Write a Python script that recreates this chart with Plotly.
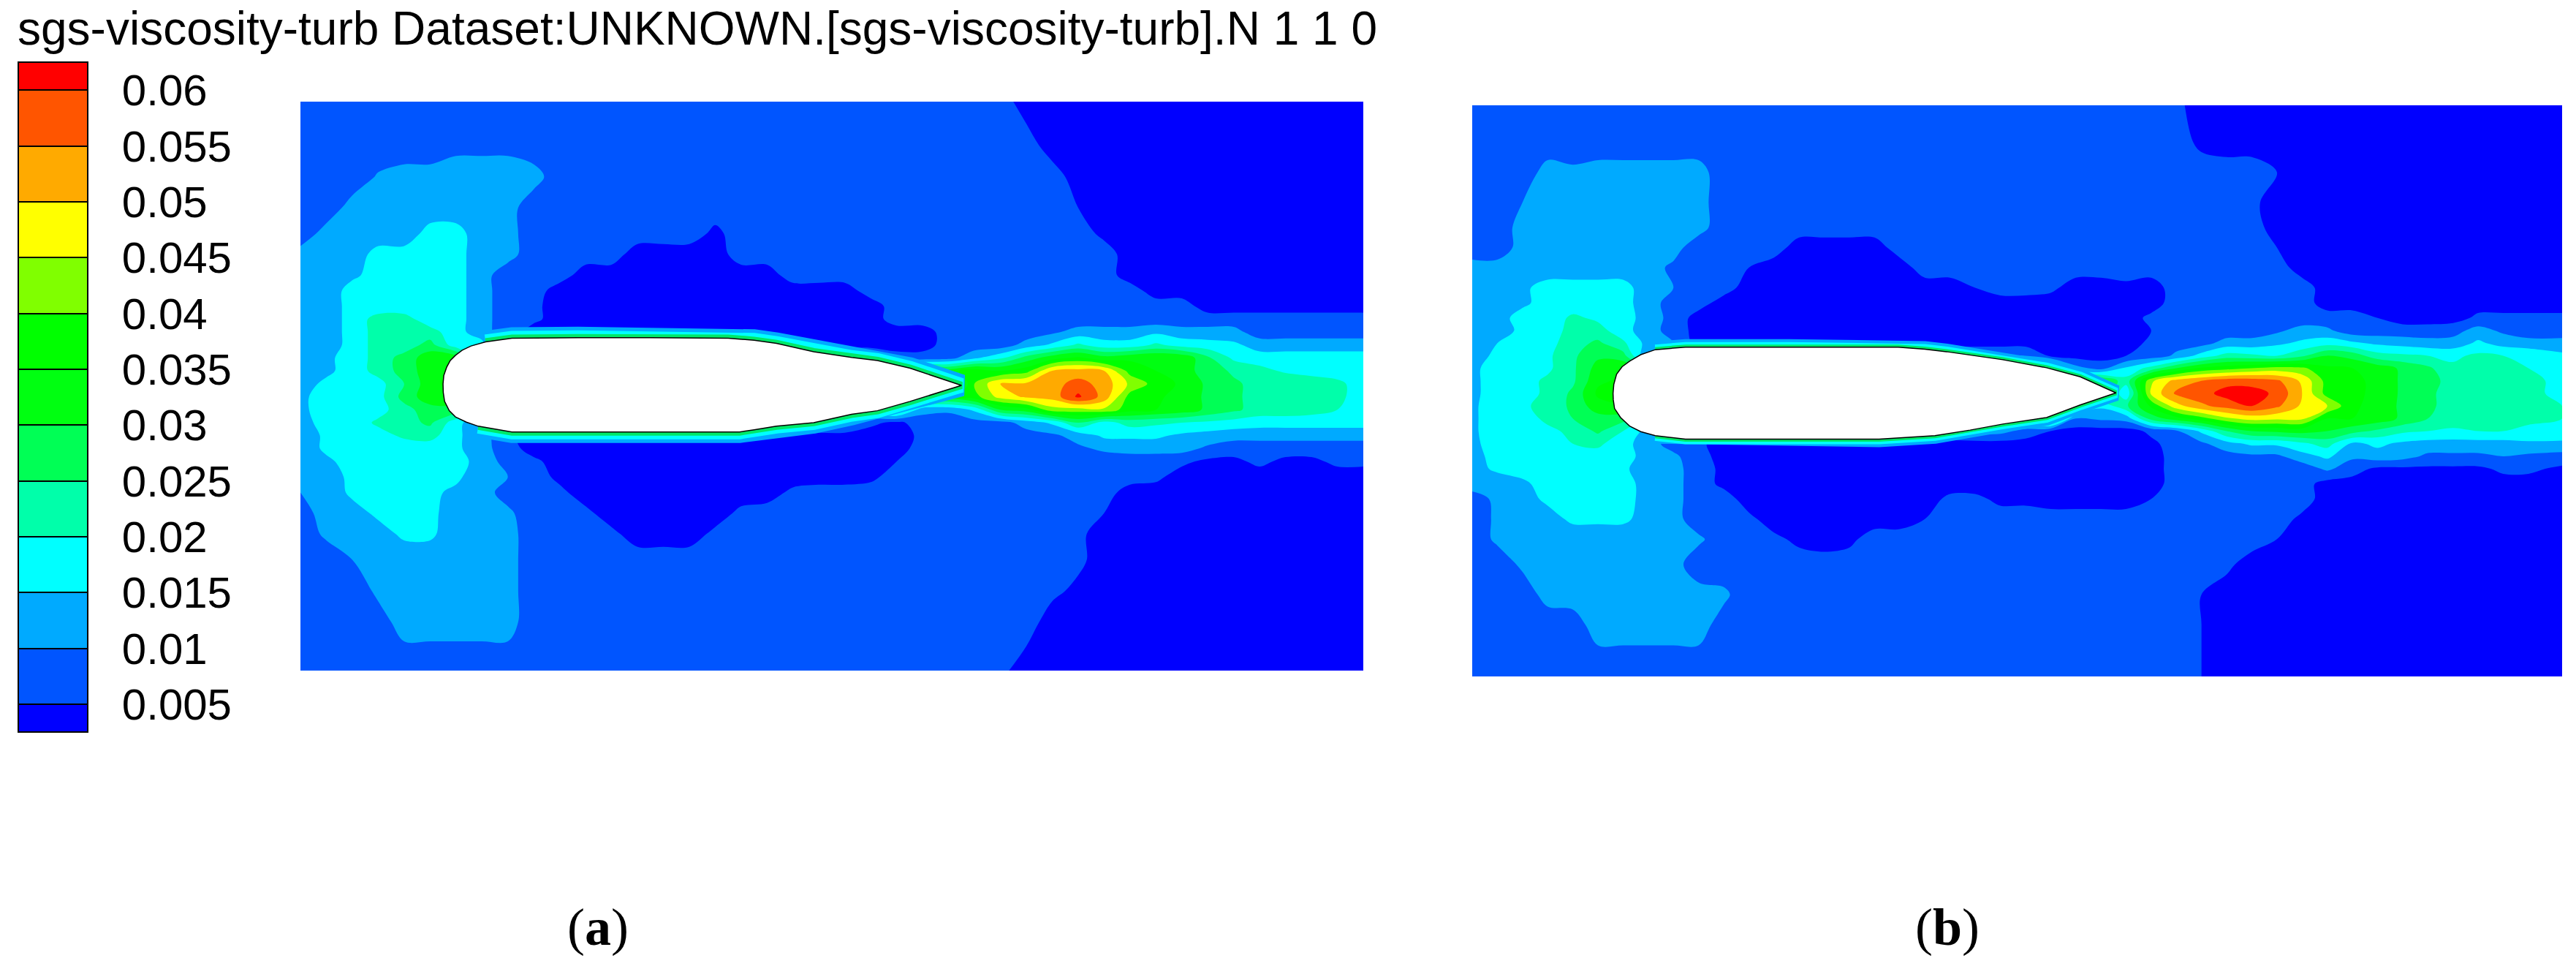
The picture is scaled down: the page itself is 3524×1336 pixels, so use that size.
import numpy as np
import plotly.graph_objects as go

# sgs-viscosity-turb contour values, in 1e-3 units
x_a = [-0.275, -0.225, -0.175, -0.125, -0.075, -0.025, 0.025, 0.075, 0.125, 0.175, 0.225, 0.275, 0.325, 0.375,
       0.425, 0.475, 0.525, 0.575, 0.625, 0.675, 0.725, 0.775, 0.825, 0.875, 0.925, 0.975, 1.025, 1.075,
       1.125, 1.175, 1.225, 1.275, 1.325, 1.375, 1.425, 1.475, 1.525, 1.575, 1.625, 1.675, 1.725, 1.775]
y_a = [0.545, 0.46, 0.40, 0.34, 0.29, 0.25, 0.21, 0.18, 0.15, 0.125, 0.10, 0.075, 0.05, 0.025, 0,
       -0.025, -0.05, -0.075, -0.10, -0.125, -0.15, -0.18, -0.21, -0.25, -0.29, -0.34, -0.40, -0.46, -0.554]
sgs_a = [
    [7,7,7,7,7,7,7,7,7,7,7,7,7,7,7,7,7,7,7,7,7,7,7,7,7,7,7,7,3,3,3,3,3,3,3,3,3,3,3,3,3,3],
    [7,7,7,7,7,7,9,9,9,7,7,7,7,7,7,7,7,7,7,7,7,7,7,7,7,7,7,7,7,3,3,3,3,3,3,3,3,3,3,3,3,3],
    [7,7,7,10.5,12,12,12,12,12,12,7,7,7,7,7,7,7,7,7,7,7,7,7,7,7,7,7,7,7,7,3,3,3,3,3,3,3,3,3,3,3,3],
    [7,7,12,12,12,12,12,12,12,7,7,7,7,7,7,7,7,7,7,7,7,7,7,7,7,7,7,7,7,7,5,3,3,3,3,3,3,3,3,3,3,3],
    [7,12,12,12,12,17,17,12,12,7,7,7,7,7,7,7,4,7,7,7,7,7,7,7,7,7,7,7,7,7,7,4,3,3,3,3,3,3,3,3,3,3],
    [12,12,12,17,17,17,17,12,12,7,7,7,7,3,3,3,3,7,7,7,7,7,7,7,7,7,7,7,7,7,7,7,3,3,3,3,3,3,3,3,3,3],
    [12,12,14,17,17,17,17,12,7,7,7,3,3,3,3,3,3,3,3,7,7,7,7,7,7,7,7,7,7,7,7,7,3,3,3,3,3,3,3,3,3,3],
    [12,12,17,17,17,17,17,12,7,7,3,3,3,3,3,3,3,3,3,3,3,3,7,7,7,7,7,7,7,7,7,7,7,3,3,3,3,3,3,3,3,3],
    [12,12,17,17,17,17,17,12,7,6,3,3,3,3,3,3,3,3,3,3,3,3,3,7,7,7,7,7,7,7,7,7,7,7,7,3,3,3,3,3,3,3],
    [12,12,17,22,22,17,17,12,7,6,3,3,3,3,3,3,3,3,3,3,3,3,3,7,7,7,7,7,7,7,7,7,7,7,7,7,7,7,7,7,7,7],
    [12,12,17,22,22,22,17,12,7,3,3,3,3,3,3,3,3,3,3,3,3,3,3,3,3,7,7,7,7,9,12,12,12,14,12,12,12,7,7,7,7,7],
    [12,12,17,22,22,27,17,17,3,3,3,3,3,3,3,3,3,3,3,3,3,3,3,3,3,7,7,7,12,16,21,17,17,21,18,17,16,13,13,13,13,13],
    [12,14,17,22,27,33,33,17,17,17,17,17,17,17,17,17,17,17,17,17,17,12,12,7,7,8,14,19,27,33,36,32,34,35,34,26,19,17,17,17,17,17],
    [13,14,17,22,27,33,36,25,25,25,25,25,25,25,25,25,25,25,25,25,25,25,25,25,33,33,38,35,38,50,52,50,38,35,32,28,24,22,19,18,18,18],
    [13,16,17,18,25,33,38,30,30,30,30,30,30,30,30,30,30,30,30,30,30,30,30,30,30,20,40,50,51,53,57,53,44,38,34,29,26,23,25,23,21,18],
    [14,17,17,18,27,33,33,25,25,25,25,25,25,25,25,25,25,25,25,25,25,25,25,25,33,33,38,47,51,52,61,53,38,36,33,29,26,23,24,23,21,18],
    [14,17,17,18,23,28,28,20,20,20,20,20,20,20,20,20,20,20,20,20,20,20,20,25,12,11,16,30,33,43,43,44,37,35,33,29,26,23,23,22,20,18],
    [13,17,17,21,23,26,17,10,10,10,10,10,10,10,10,10,10,10,10,10,12,12,6,4,7,7,8,8,12,16,25,18,22,21,20,19,18,17,17,17,17,17],
    [12,16,17,18,21,22,16,12,6,3,3,3,3,3,3,3,3,3,3,3,3,3,3,3,6,5,7,7,8,9,12,16,16,16,14,13,12,12,12,12,12,12],
    [12,16,17,17,17,17,16,12,7,3,3,3,3,3,3,3,3,3,3,3,3,3,3,3,7,7,7,7,7,7,9,11,12,12,12,9,7,7,7,7,7,7],
    [11,14,17,17,17,17,17,13,8,6,3,3,3,3,3,3,3,3,3,3,3,3,3,5,7,7,7,7,7,7,7,7,7,7,6,4,4,6,4,4,6,6],
    [11,13,16,17,17,17,16,12,10,7,4,3,3,3,3,3,3,3,3,3,3,3,4,7,7,7,7,7,7,7,7,7,7,6,3,3,3,3,3,3,3,3],
    [10,12,16,16,16,16,14,12,8,7,6,3,3,3,3,3,3,3,3,6,7,7,7,7,7,7,7,7,7,7,7,7,3,3,3,3,3,3,3,3,3,3],
    [8,12,13,16,16,16,13,12,11,7,7,6,3,3,3,3,3,6,7,7,7,7,7,7,7,7,7,7,7,7,7,5,3,3,3,3,3,3,3,3,3,3],
    [7,11,13,13,16,16,12,12,12,7,7,7,6,3,3,3,6,7,7,7,7,7,7,7,7,7,7,7,7,7,6,3,3,3,3,3,3,3,3,3,3,3],
    [7,7,10,12,12,12,12,12,12,7,7,7,7,7,7,7,7,7,7,7,7,7,7,7,7,7,7,7,7,7,6,3,3,3,3,3,3,3,3,3,3,3],
    [7,7,7,11,12,12,12,12,12,7,7,7,7,7,7,7,7,7,7,7,7,7,7,7,7,7,7,7,7,6,4,3,3,3,3,3,3,3,3,3,3,3],
    [7,7,7,8,12,12,12,12,12,7,7,7,7,7,7,7,7,7,7,7,7,7,7,7,7,7,7,7,7,3,3,3,3,3,3,3,3,3,3,3,3,3],
    [7,7,7,7,7,7,7,7,7,7,7,7,7,7,7,7,7,7,7,7,7,7,7,7,7,7,7,6,3,3,3,3,3,3,3,3,3,3,3,3,3,3],
]

x_b = [-0.28, -0.23, -0.18, -0.13, -0.08, -0.03, 0.02, 0.07, 0.12, 0.17, 0.22, 0.27, 0.32, 0.37, 0.42,
       0.47, 0.52, 0.57, 0.62, 0.67, 0.72, 0.77, 0.82, 0.87, 0.92, 0.97, 1.02, 1.07, 1.12, 1.17, 1.22,
       1.27, 1.32, 1.37, 1.42, 1.47, 1.52, 1.57, 1.62, 1.67, 1.72, 1.77, 1.82, 1.887]
y_b = [0.573, 0.50, 0.44, 0.38, 0.33, 0.29, 0.25, 0.21, 0.18, 0.15, 0.125, 0.10, 0.075, 0.05, 0.025, 0,
       -0.025, -0.05, -0.075, -0.10, -0.125, -0.15, -0.18, -0.21, -0.25, -0.29, -0.34, -0.40, -0.46, -0.563]
sgs_b = [
    [7,7,7,7,7,7,7,7,7,7,7,7,7,7,7,7,7,7,7,7,7,7,7,7,7,7,7,7,6,3,3,3,3,3,3,3,3,3,3,3,3,3,3,3],
    [7,7,7,7,7,7,7,7,7,7,7,7,7,7,7,7,7,7,7,7,7,7,7,7,7,7,7,7,7,4,3,3,3,3,3,3,3,3,3,3,3,3,3,3],
    [7,7,7,12,11,12,12,12,12,12,7,7,7,7,7,7,7,7,7,7,7,7,7,7,7,7,7,7,7,7,7,7,5,3,3,3,3,3,3,3,3,3,3,3],
    [7,7,10,12,12,12,12,12,12,12,7,7,7,7,7,7,7,7,7,7,7,7,7,7,7,7,7,7,7,7,7,6,3,3,3,3,3,3,3,3,3,3,3,3],
    [7,7,12,12,12,12,12,12,12,12,7,7,7,7,7,7,7,7,7,7,7,7,7,7,7,7,7,7,7,7,7,7,3,3,3,3,3,3,3,3,3,3,3,3],
    [7,7,12,12,12,12,12,12,12,7,7,7,7,3,3,3,3,7,7,7,7,7,7,7,7,7,7,7,7,7,7,7,5,3,3,3,3,3,3,3,3,3,3,3],
    [12,12,12,12,12,12,12,12,9,7,7,5,3,3,3,3,3,3,7,7,7,7,7,7,7,7,7,7,7,7,7,7,7,3,3,3,3,3,3,3,3,3,3,3],
    [12,12,14,17,17,17,17,12,10,7,7,3,3,3,3,3,3,3,3,3,5,7,7,6,3,3,4,3,7,7,7,7,7,7,3,3,3,3,3,3,3,3,3,3],
    [12,13,14,17,17,17,17,12,8,7,3,3,3,3,3,3,3,3,3,3,3,3,3,3,3,3,3,3,7,7,7,7,7,7,3,3,3,3,3,3,3,3,3,3],
    [12,13,17,17,21,19,17,13,8,3,3,3,3,3,3,3,3,3,3,3,3,3,3,3,3,3,3,6,7,7,7,7,7,7,7,7,5,3,3,3,6,6,6,6],
    [12,13,16,17,22,22,17,12,8,3,3,3,3,3,3,3,3,3,3,3,3,3,3,3,3,3,3,5,7,7,7,7,9,12,11,7,7,7,7,8,12,9,7,7],
    [12,15,16,18,23,26,21,13,10,3,3,3,3,3,3,3,3,3,3,3,3,3,3,3,3,3,3,6,8,8,12,12,14,16,18,16,14,13,12,12,16,13,12,12],
    [13,16,18,19,24,29,27,10,10,10,10,10,10,10,10,10,10,10,10,10,10,10,10,4,3,3,5,7,11,17,22,21,20,24,30,28,22,21,20,19,21,20,19,16],
    [14,17,18,19,24,32,34,25,25,25,25,25,25,25,25,25,25,25,25,25,25,25,25,30,12,8,16,22,30,36,38,40,42,41,36,35,33,29,26,21,22,21,20,18],
    [14,17,18,21,24,34,36,30,30,30,30,30,30,30,30,30,30,30,30,30,30,30,30,30,30,31,22,44,52,55,58,58,56,49,38,36,34,29,27,23,23,22,21,19],
    [14,17,18,21,26,36,38,30,30,30,30,30,30,30,30,30,30,30,30,30,30,30,30,30,30,30,16,46,56,58,62,62,59,50,38,36,34,29,26,23,23,22,21,19],
    [14,18,19,22,26,33,34,25,25,25,25,25,25,25,25,25,25,25,25,25,25,25,25,25,25,16,24,36,48,54,57,60,56,49,45,36,33,29,26,23,22,22,21,20],
    [14,18,18,21,25,28,27,20,20,20,20,20,20,20,20,20,20,20,20,20,20,20,20,30,10,11,12,27,33,38,44,47,46,46,35,35,33,29,25,23,22,21,21,20],
    [14,18,18,19,21,26,20,13,10,10,10,10,10,10,10,10,10,10,10,10,12,12,8,5,3,3,3,6,9,16,25,30,31,32,30,27,24,21,20,19,20,20,19,18],
    [14,17,17,18,20,21,17,12,8,6,3,3,3,3,3,3,3,3,3,3,3,3,3,3,3,3,3,4,7,9,13,16,16,19,22,14,16,14,13,13,13,13,14,14],
    [13,17,17,17,19,18,17,13,11,7,3,3,3,3,3,3,3,3,3,3,3,3,3,3,3,3,3,3,7,7,8,9,9,13,16,11,13,12,9,9,9,10,9,8],
    [13,16,17,17,17,17,16,12,12,7,4,3,3,3,3,3,3,3,3,3,3,3,3,3,3,3,3,3,7,7,7,7,7,7,11,7,4,4,4,4,4,6,6,4],
    [12,12,14,17,17,17,17,13,12,7,4,3,3,3,3,3,3,3,3,3,3,3,3,3,3,3,3,3,7,7,7,7,7,7,3,3,3,3,3,3,3,3,3,3],
    [8,11,13,16,16,16,17,13,12,7,7,3,3,3,3,3,3,3,3,6,6,4,4,3,3,3,3,5,7,7,7,7,7,7,3,3,3,3,3,3,3,3,3,3],
    [7,11,13,13,16,16,16,13,12,7,7,6,3,3,3,3,3,3,5,7,7,7,7,7,7,7,7,7,7,7,7,7,7,4,3,3,3,3,3,3,3,3,3,3],
    [7,11,12,12,12,12,12,12,12,11,7,7,6,4,3,4,7,7,7,7,7,7,7,7,7,7,7,7,7,7,7,7,5,3,3,3,3,3,3,3,3,3,3,3],
    [7,7,11,12,12,12,12,12,12,7,7,7,7,7,7,7,7,7,7,7,7,7,7,7,7,7,7,7,7,7,6,3,3,3,3,3,3,3,3,3,3,3,3,3],
    [7,7,7,12,12,12,12,12,12,12,11,7,7,7,7,7,7,7,7,7,7,7,7,7,7,7,7,7,7,5,3,3,3,3,3,3,3,3,3,3,3,3,3,3],
    [7,7,7,7,8,12,12,12,12,12,8,7,7,7,7,7,7,7,7,7,7,7,7,7,7,7,7,7,7,5,3,3,3,3,3,3,3,3,3,3,3,3,3,3],
    [7,7,7,7,7,7,7,7,7,7,7,7,7,7,7,7,7,7,7,7,7,7,7,7,7,7,7,7,7,5,3,3,3,3,3,3,3,3,3,3,3,3,3,3],
]

# aerofoil outlines in chord units
foil_a_x = [0, 0.0015, 0.007, 0.014, 0.024, 0.037, 0.054, 0.082, 0.133, 0.26, 0.40, 0.55, 0.60, 0.643, 0.715,
            0.788, 0.838, 0.901, 1.0, 0.901, 0.838, 0.788, 0.715, 0.643, 0.60, 0.572, 0.30, 0.133, 0.068, 0.045,
            0.024, 0.012, 0.003, 0.0005, 0]
foil_a_y = [0, 0.016, 0.032, 0.045, 0.055, 0.065, 0.073, 0.081, 0.088, 0.089, 0.089, 0.088, 0.084, 0.078, 0.062,
            0.051, 0.045, 0.030, -0.003, -0.034, -0.052, -0.059, -0.075, -0.082, -0.089, -0.093, -0.093, -0.093,
            -0.082, -0.074, -0.064, -0.052, -0.034, -0.017, 0]
foil_b_x = [0, 0.0015, 0.007, 0.018, 0.033, 0.055, 0.084, 0.144, 0.35, 0.567, 0.62, 0.663, 0.775, 0.862, 0.929, 1.0,
            0.929, 0.862, 0.775, 0.71, 0.64, 0.529, 0.35, 0.144, 0.084, 0.055, 0.033, 0.015, 0.003, 0.0005, 0]
foil_b_y = [0, 0.018, 0.038, 0.053, 0.064, 0.077, 0.087, 0.092, 0.092, 0.092, 0.088, 0.083, 0.067, 0.051, 0.033, 0.001,
            -0.023, -0.048, -0.061, -0.073, -0.084, -0.091, -0.091, -0.091, -0.084, -0.076, -0.065, -0.048, -0.030,
            -0.013, 0]

levels = [0.005, 0.01, 0.015, 0.02, 0.025, 0.03, 0.035, 0.04, 0.045, 0.05, 0.055, 0.06]
level_labels = ["0.005", "0.01", "0.015", "0.02", "0.025", "0.03", "0.035", "0.04", "0.045", "0.05", "0.055", "0.06"]
band_colors = ["#0000ff", "#0055ff", "#00aaff", "#00ffff", "#00ffaa", "#00ff55", "#00ff11", "#00ff00",
               "#80ff00", "#ffff00", "#ffaa00", "#ff5500", "#ff0000"]
colorscale = [[i / 12, c] for i, c in enumerate(band_colors)]
contours = dict(coloring="fill", showlines=False, start=0.005, end=0.06, size=0.005)

W, H = 3524, 1336

fig = go.Figure()
fig.add_trace(go.Contour(
    x=x_a, y=y_a, z=np.array(sgs_a) / 1000, contours=contours, colorscale=colorscale, line_width=0,
    xaxis="x", yaxis="y",
    colorbar=dict(
        x=25 / W, xanchor="left", xpad=0, y=1 - 85 / H, yanchor="top", ypad=0,
        len=916 / H, lenmode="fraction", thickness=95, thicknessmode="pixels",
        outlinecolor="black", outlinewidth=2, borderwidth=0,
        tickmode="array", tickvals=levels, ticktext=["\u00a0\u00a0" + t for t in level_labels],
        ticks="inside", ticklen=95, tickwidth=2, tickcolor="black",
        tickfont=dict(family="Liberation Sans", size=60, color="black"),
    ),
))
fig.add_trace(go.Contour(
    x=x_b, y=y_b, z=np.array(sgs_b) / 1000, contours=contours, colorscale=colorscale, line_width=0,
    showscale=False, xaxis="x2", yaxis="y2",
))

# thin boundary layer along the foil sides (not round the nose), then the foil itself
for fx, fy, xa, ya, widths, i0, i1 in [(foil_a_x, foil_a_y, "x", "y", (30, 20, 10), 7, 29),
                                       (foil_b_x, foil_b_y, "x2", "y2", (22, 14, 7), 6, 25)]:
    for w, c in zip(widths, ["#00aaff", "#00ffff", "#00e868"]):
        fig.add_trace(go.Scatter(x=fx[i0:i1], y=fy[i0:i1], mode="lines", line=dict(color=c, width=w),
                                 xaxis=xa, yaxis=ya, showlegend=False, hoverinfo="skip"))
    fig.add_trace(go.Scatter(x=fx, y=fy, mode="lines", fill="toself", fillcolor="white",
                             line=dict(color="black", width=1.5), xaxis=xa, yaxis=ya,
                             showlegend=False, hoverinfo="skip"))

hidden = dict(visible=False, showgrid=False, zeroline=False)
fig.update_layout(
    width=W, height=H,
    margin=dict(l=0, r=0, t=0, b=0, pad=0, autoexpand=False),
    paper_bgcolor="white", plot_bgcolor="white", showlegend=False,
    xaxis=dict(hidden, domain=[411 / W, 1865 / W], range=[-0.275, 1.775]),
    yaxis=dict(hidden, domain=[1 - 917 / H, 1 - 139 / H], range=[-0.554, 0.545]),
    xaxis2=dict(hidden, domain=[2014 / W, 3505 / W], range=[-0.28, 1.887]),
    yaxis2=dict(hidden, domain=[1 - 925 / H, 1 - 144 / H], range=[-0.563, 0.573]),
    annotations=[
        dict(text="sgs-viscosity-turb Dataset:UNKNOWN.[sgs-viscosity-turb].N 1 1 0", xref="paper", yref="paper",
             x=22 / W, y=1 - 39 / H, xanchor="left", yanchor="middle", showarrow=False,
             font=dict(family="Liberation Sans", size=64, color="black")),
        dict(text="(<b>a</b>)", xref="paper", yref="paper", x=818 / W, y=1 - 1268 / H, xanchor="center",
             yanchor="middle", showarrow=False, font=dict(family="Liberation Serif", size=72, color="black")),
        dict(text="(<b>b</b>)", xref="paper", yref="paper", x=2664 / W, y=1 - 1268 / H, xanchor="center",
             yanchor="middle", showarrow=False, font=dict(family="Liberation Serif", size=72, color="black")),
    ],
)

fig.write_html("out.html", config=dict(displayModeBar=False), post_script="document.body.style.margin='0';")
